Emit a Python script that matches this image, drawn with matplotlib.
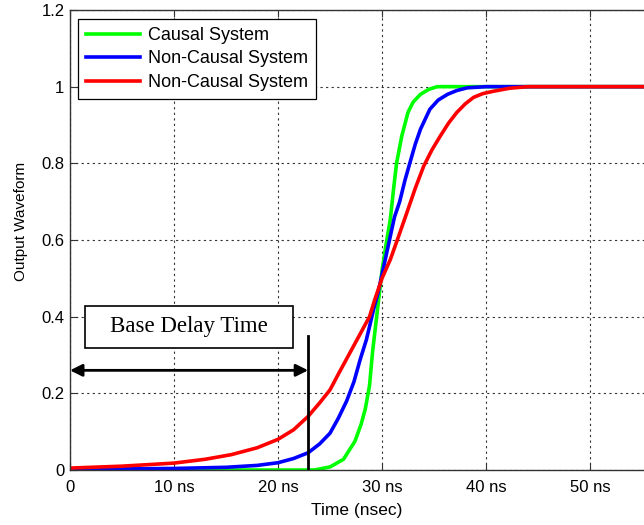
import matplotlib.pyplot as plt
from matplotlib.patches import Rectangle

# data (time in ns, normalised output)
t_causal = [0, 23.5, 25.0, 26.3, 27.4, 28.0, 28.4, 28.8, 29.1, 29.4, 29.7, 30.0,
            30.4, 30.8, 31.1, 31.4, 31.9, 32.5, 33.0, 33.7, 34.5, 35.3, 56]
y_causal = [0, 0, 0.008, 0.028, 0.075, 0.12, 0.16, 0.22, 0.31, 0.38, 0.45, 0.52,
            0.59, 0.654, 0.73, 0.80, 0.871, 0.933, 0.96, 0.98, 0.993, 1.0, 1.0]

t_nc1 = [0, 10, 15, 18, 20, 21.5, 22.9, 24.0, 25.0, 25.8, 26.6, 27.3, 27.9, 28.5,
         28.8, 29.2, 29.6, 30.0, 30.4, 30.8, 31.2, 31.7, 32.2, 32.7, 33.2, 33.7,
         34.6, 35.4, 36.3, 37.2, 38.2, 40, 56]
y_nc1 = [0.002, 0.004, 0.007, 0.012, 0.019, 0.03, 0.045, 0.068, 0.096, 0.135,
         0.18, 0.23, 0.288, 0.34, 0.374, 0.42, 0.46, 0.51, 0.56, 0.61, 0.66, 0.70,
         0.755, 0.803, 0.85, 0.889, 0.941, 0.965, 0.98, 0.99, 0.997, 1.0, 1.0]

t_nc2 = [0, 5, 10, 13, 15.5, 18, 20, 21.5, 22.9, 24.0, 25.0, 25.8, 26.6, 27.4,
         28.2, 28.8, 29.3, 30.0, 30.8, 31.6, 32.4, 33.2, 34.0, 34.8, 35.6, 36.4,
         37.2, 38.0, 38.8, 39.7, 40.7, 42.3, 44, 56]
y_nc2 = [0.005, 0.01, 0.018, 0.028, 0.04, 0.058, 0.08, 0.105, 0.14, 0.175, 0.209,
         0.25, 0.29, 0.33, 0.37, 0.40, 0.444, 0.50, 0.549, 0.61, 0.672, 0.735,
         0.792, 0.835, 0.871, 0.905, 0.933, 0.955, 0.972, 0.982, 0.988, 0.996,
         1.0, 1.0]

labels = ["Causal System", "Non-Causal System", "Non-Causal System"]
x_ticks = [0, 10, 20, 30, 40, 50]
x_ticklabels = ["0", "10 ns", "20 ns", "30 ns", "40 ns", "50 ns"]
y_ticks = [0, 0.2, 0.4, 0.6, 0.8, 1.0, 1.2]
y_ticklabels = ["0", "0.2", "0.4", "0.6", "0.8", "1", "1.2"]
base_delay = 22.9

plt.rcParams['font.family'] = ['Liberation Sans', 'DejaVu Sans']

fig = plt.figure(figsize=(6.44, 5.25), dpi=100)
ax = fig.add_axes([70 / 644, 55 / 525, 574 / 644, 460 / 525])

ax.plot(t_causal, y_causal, color='#00ff00', lw=2.6, label=labels[0])
ax.plot(t_nc1, y_nc1, color='#0000ff', lw=2.6, label=labels[1])
ax.plot(t_nc2, y_nc2, color='#ff0000', lw=2.6, label=labels[2])

ax.set_xlim(0, 574 / 10.4)
ax.set_ylim(0, 1.2)
ax.set_xticks(x_ticks)
ax.set_xticklabels(x_ticklabels)
ax.set_yticks(y_ticks)
ax.set_yticklabels(y_ticklabels)
ax.tick_params(direction='in', length=5, width=0.8, labelsize=12, top=True,
               color='#333333')
ax.tick_params(axis='x', pad=7)
ax.tick_params(axis='y', pad=4)
ax.grid(True, color='#333333', linestyle=(0, (2, 3)), linewidth=0.8)
for s in ['left', 'bottom', 'top']:
    ax.spines[s].set_color('#333333')
    ax.spines[s].set_linewidth(1.0)
ax.spines['right'].set_visible(False)

ax.set_xlabel("Time (nsec)", fontsize=12.5)
ax.set_ylabel("Output Waveform", fontsize=11)
ax.yaxis.set_label_coords(-0.073, 0.54)
ax.xaxis.set_label_coords(0.5, -0.071)

leg = ax.legend(loc='upper left', bbox_to_anchor=(0.014, 0.981),
                borderaxespad=0, fontsize=13, handlelength=3.0,
                handletextpad=0.4, labelspacing=0.36, borderpad=0.45,
                fancybox=False, framealpha=1, edgecolor='black')
leg.get_frame().set_linewidth(0.9)

# base delay annotation
ax.plot([base_delay, base_delay], [0, 0.35], color='black', lw=2)
ax.annotate('', xy=(0, 0.26), xytext=(base_delay, 0.26),
            arrowprops=dict(arrowstyle='<|-|>', color='black', lw=2,
                            mutation_scale=18, shrinkA=0, shrinkB=0))
ax.add_patch(Rectangle((1.44, 0.319), 20.0, 0.11, fill=True, facecolor='white',
                       edgecolor='black', lw=1.2, zorder=5))
ax.text(11.44, 0.374, "Base Delay Time", ha='center', va='center',
        fontsize=16.5, family=['Liberation Serif', 'DejaVu Serif'], zorder=6)

fig.savefig("out.png", dpi=100)
